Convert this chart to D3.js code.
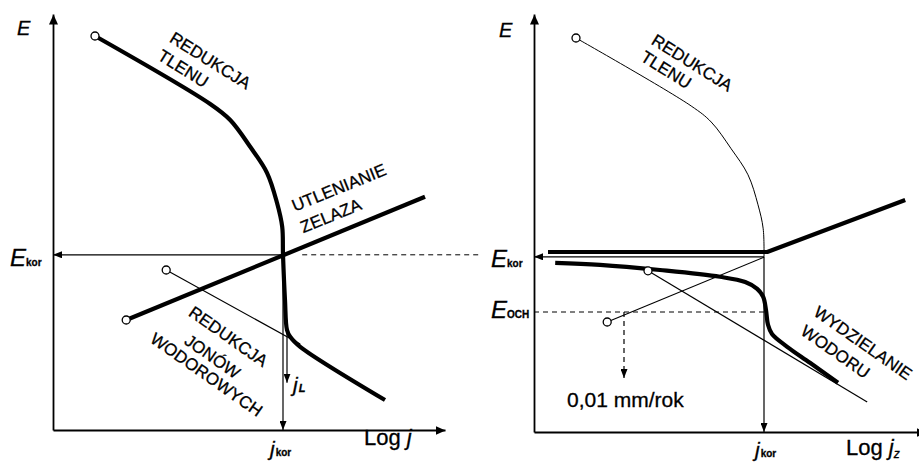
<!DOCTYPE html>
<html><head><meta charset="utf-8">
<script src="https://cdn.jsdelivr.net/npm/d3@7"></script>
<style>
html,body{margin:0;padding:0;background:#fff;}
svg{display:block;font-family:"Liberation Sans",Arial,Helvetica,sans-serif;}
svg text{fill:#000;stroke:#000;stroke-width:0.3px;}
</style></head><body>
<svg id="chart" width="919" height="463"></svg>
<script>
// Evans diagrams: potential E against log of current density (arbitrary units)

// --- left diagram: corrosion of iron in aerated acid ---
const o2Reduction = [[1.05,9.85],[3.93,8.15],[4.43,7.75],[4.93,7.08],[5.35,6.43],[5.60,5.68],[5.73,5.08],[5.75,4.38]];
const o2Limiting  = [[5.75,4.38],[5.80,3.25],[5.85,2.50],[5.93,2.33],[6.18,2.08],[8.30,0.75]];
const feOxidation = [[1.83,2.75],[9.30,5.83]];
const hReduction  = [[2.83,4.00],[6.18,2.15]];
const E_kor = 4.38, j_kor = 5.75, j_L = 5.85, jL_from = 2.50, jL_to = 1.18;

// --- right diagram: cathodic protection ---
const feOxidationExtrap = [[1.83,2.75],[5.75,4.37]];
const anodicPolarized   = [[0.35,4.50],[5.83,4.50],[9.28,5.80]];
const cathodicPolarized = [[0.53,4.23],[1.65,4.18],[3.15,4.05],[4.65,3.88],[5.28,3.75],[5.58,3.58],
                           [5.73,3.38],[5.80,3.05],[5.85,2.68],[5.95,2.45],[6.33,2.13],[6.90,1.73],[7.60,1.23]];
const hEvolution = [[2.85,4.03],[8.33,0.75]];
const E_och = 3.0, j_och = 2.25, jOch_to = 1.35;

// labels along curves: [text, x, E, angle]
const leftLabels = [
  ["REDUKCJA",3.93,9.23,32],["TLENU",3.25,9.03,32],
  ["UTLENIANIE",7.15,6.05,-22],["ZELAZA",6.95,5.35,-22],
  ["REDUKCJA",4.38,2.33,35],["JONÓW",3.98,1.83,35],["WODOROWYCH",3.83,1.38,35]
];
const rightLabels = [
  ["REDUKCJA",3.95,9.225,32],["TLENU",3.30,9.05,32],
  ["WYDZIELANIE",8.22,2.22,35],["WODORU",7.53,2.00,35]
];
const rateLabel = "0,01 mm/rok";

const svg = d3.select("#chart");
const defs = svg.append("defs");
function marker(id, len, hw){
  defs.append("marker").attr("id",id).attr("markerUnits","userSpaceOnUse")
    .attr("viewBox",`0 ${-hw} ${len} ${2*hw}`).attr("refX",len).attr("refY",0)
    .attr("markerWidth",len).attr("markerHeight",2*hw).attr("orient","auto")
    .append("path").attr("d",`M0,${-hw}L${len},0L0,${hw}Z`).attr("fill","#000");
}
marker("axisArrow",10,4.5);
marker("thinArrow",9,3.5);

const line = (x,y,curve) => d3.line().x(d=>x(d[0])).y(d=>y(d[1])).curve(curve||d3.curveLinear);
const THICK = 4.2, THIN = 1.2;

function axes(g, x, y){
  g.append("g").attr("transform",`translate(0,${y(0)})`)
    .call(d3.axisBottom(x).tickValues([]).tickSizeOuter(0))
    .select(".domain").attr("stroke-width",1.8).attr("marker-end","url(#axisArrow)");
  g.append("g").attr("transform",`translate(${x(0)},0)`)
    .call(d3.axisLeft(y).tickValues([]).tickSizeOuter(0))
    .select(".domain").attr("stroke-width",1.8).attr("marker-end","url(#axisArrow)");
}
function path(g, data, gen, w, extra){
  const p = g.append("path").datum(data).attr("d",gen).attr("fill","none")
    .attr("stroke","#000").attr("stroke-width",w).attr("stroke-linejoin","round").attr("stroke-linecap","butt");
  if (extra) extra(p);
  return p;
}
function ring(g, x, y, d){
  g.append("circle").attr("cx",x(d[0])).attr("cy",y(d[1])).attr("r",4)
    .attr("fill","#fff").attr("stroke","#000").attr("stroke-width",1.3);
}
function curveLabels(g, x, y, list){
  g.selectAll(null).data(list).join("text")
    .attr("transform",d=>`translate(${x(d[1])},${y(d[2])}) rotate(${d[3]})`)
    .attr("text-anchor","middle").attr("dominant-baseline","central")
    .attr("font-size",17).text(d=>d[0]);
}
function subLabel(g, px, py, main, sub, mainSize, subSize, subDx, subItalic){
  const t = g.append("text").attr("x",px).attr("y",py);
  t.append("tspan").attr("font-style","italic").attr("font-size",mainSize).text(main);
  t.append("tspan").attr("font-size",subSize).attr("dx",subDx||0)
    .attr("font-style",subItalic?"italic":"normal").attr("font-weight","bold").text(sub);
}

// ---------------- left panel ----------------
{
  const x = d3.scaleLinear().domain([0,9.8]).range([53,445]);
  const y = d3.scaleLinear().domain([0,10.4]).range([430,14]);
  const g = svg.append("g");
  axes(g,x,y);
  const curved = line(x,y,d3.curveCatmullRom.alpha(0.5));
  const straight = line(x,y);

  path(g, hReduction, straight, THIN);
  path(g, o2Reduction.concat(o2Limiting.slice(1)), curved, THICK);
  path(g, feOxidation, straight, THICK);

  // E_kor and j_kor arrows
  path(g, [[j_kor,E_kor],[0,E_kor]], straight, THIN, p=>p.attr("marker-end","url(#thinArrow)"));
  path(g, [[j_kor,E_kor],[j_kor,0]], straight, THIN, p=>p.attr("marker-end","url(#thinArrow)"));
  path(g, [[j_L,jL_from],[j_L,jL_to]], straight, THIN, p=>p.attr("marker-end","url(#thinArrow)"));
  // dashed continuation of E_kor towards the right diagram
  path(g, [[6.23,E_kor],[10.7,E_kor]], straight, 1, p=>p.attr("stroke-dasharray","5,4"));

  ring(g,x,y,o2Reduction[0]);
  ring(g,x,y,feOxidation[0]);
  ring(g,x,y,hReduction[0]);

  curveLabels(g,x,y,leftLabels);

  g.append("text").attr("x",17).attr("y",35).attr("font-style","italic").attr("font-size",20).text("E");
  subLabel(g, 10, 266, "E", "kor", 24, 10, 0);
  subLabel(g, 270, 456, "j", "kor", 21, 10, 1);
  subLabel(g, 293, 392, "j", "L", 21, 11, 1, true);
  const lt = g.append("text").attr("x",364).attr("y",445).attr("font-size",22);
  lt.append("tspan").text("Log ");
  lt.append("tspan").attr("font-style","italic").text("j");
}

// ---------------- right panel ----------------
{
  const x = d3.scaleLinear().domain([0,9.8]).range([534,926]);
  const y = d3.scaleLinear().domain([0,10.45]).range([432,14]);
  const g = svg.append("g");
  axes(g,x,y);
  const curved = line(x,y,d3.curveCatmullRom.alpha(0.5));
  const straight = line(x,y);

  path(g, o2Reduction, curved, 1);
  path(g, feOxidationExtrap, straight, THIN);
  path(g, hEvolution, straight, THIN);
  path(g, anodicPolarized, straight, THICK);
  path(g, cathodicPolarized, curved, THICK);

  path(g, [[j_kor,E_kor],[0,E_kor]], straight, THIN, p=>p.attr("marker-end","url(#thinArrow)"));
  path(g, [[j_kor,E_kor],[j_kor,0]], straight, THIN, p=>p.attr("marker-end","url(#thinArrow)"));
  path(g, [[0,E_och],[j_kor,E_och]], straight, 1, p=>p.attr("stroke-dasharray","5,4"));
  path(g, [[j_och,E_och],[j_och,jOch_to]], straight, 1.2, p=>p.attr("stroke-dasharray","5,4").attr("marker-end","url(#thinArrow)"));

  ring(g,x,y,o2Reduction[0]);
  ring(g,x,y,feOxidationExtrap[0]);
  ring(g,x,y,hEvolution[0]);

  curveLabels(g,x,y,rightLabels);

  g.append("text").attr("x",499).attr("y",37).attr("font-style","italic").attr("font-size",20).text("E");
  subLabel(g, 491, 267, "E", "kor", 24, 10, 0);
  subLabel(g, 491, 318, "E", "OCH", 24, 10, 0);
  subLabel(g, 755, 457, "j", "kor", 21, 10, 1);
  g.append("text").attr("x",567).attr("y",407).attr("font-size",21).text(rateLabel);
  const lt = g.append("text").attr("x",846).attr("y",455).attr("font-size",22);
  lt.append("tspan").text("Log ");
  lt.append("tspan").attr("font-style","italic").text("j");
  lt.append("tspan").attr("font-size",12).attr("dy",3).attr("font-style","italic").text("z");
}
</script>
</body></html>
